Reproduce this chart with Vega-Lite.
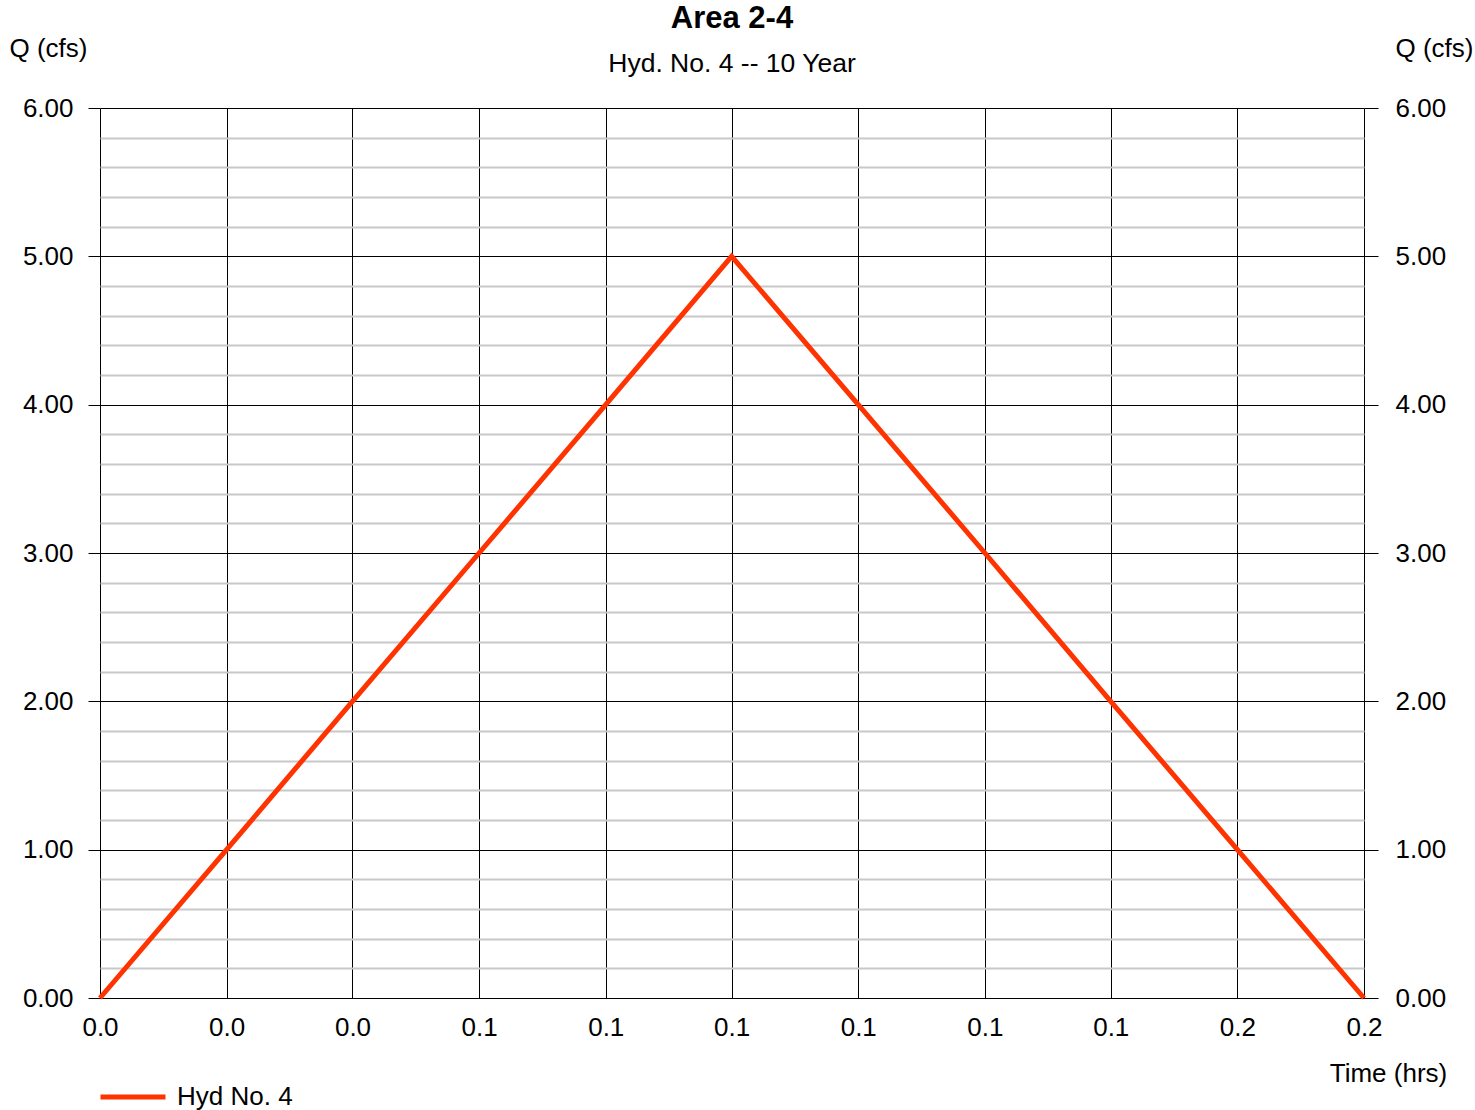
{
  "$schema": "https://vega.github.io/schema/vega-lite/v6.json",
  "width": 1264,
  "height": 890,
  "autosize": {"type": "none"},
  "padding": {"left": 100, "top": 108, "right": 111, "bottom": 112},
  "background": "white",
  "title": {
    "text": "Area 2-4",
    "subtitle": "Hyd. No. 4 -- 10 Year",
    "anchor": "middle",
    "frame": "group",
    "font": "Liberation Sans",
    "fontSize": 31,
    "fontWeight": "bold",
    "color": "black",
    "subtitleFont": "Liberation Sans",
    "subtitleFontSize": 26.5,
    "subtitlePadding": 16,
    "subtitleColor": "black",
    "offset": -43
  },
  "config": {
    "view": {"stroke": null},
    "font": "Liberation Sans",
    "axis": {
      "labelFont": "Liberation Sans",
      "titleFont": "Liberation Sans",
      "labelColor": "black",
      "titleColor": "black",
      "labelFontSize": 26,
      "titleFontSize": 26,
      "titleFontWeight": "normal"
    }
  },
  "data": {
    "values": [
      {"time": 0.0, "q": 0.0, "series": "Hyd No. 4"},
      {"time": 0.0167, "q": 1.0, "series": "Hyd No. 4"},
      {"time": 0.0333, "q": 2.0, "series": "Hyd No. 4"},
      {"time": 0.05, "q": 3.0, "series": "Hyd No. 4"},
      {"time": 0.0667, "q": 4.0, "series": "Hyd No. 4"},
      {"time": 0.0833, "q": 5.0, "series": "Hyd No. 4"},
      {"time": 0.1, "q": 4.0, "series": "Hyd No. 4"},
      {"time": 0.1167, "q": 3.0, "series": "Hyd No. 4"},
      {"time": 0.1333, "q": 2.0, "series": "Hyd No. 4"},
      {"time": 0.15, "q": 1.0, "series": "Hyd No. 4"},
      {"time": 0.1667, "q": 0.0, "series": "Hyd No. 4"}
    ]
  },
  "resolve": {"axis": {"y": "independent"}},
  "layer": [
    {
      "mark": {"type": "line", "strokeOpacity": 0},
      "encoding": {
        "x": {"field": "time", "type": "quantitative", "scale": {"domain": [0, 0.1667], "nice": false, "zero": false}},
        "y": {
          "field": "q", "type": "quantitative",
          "scale": {"domain": [0, 6], "nice": false},
          "axis": {
            "orient": "left",
            "values": [0.2, 0.4, 0.6, 0.8, 1.2, 1.4, 1.6, 1.8, 2.2, 2.4, 2.6, 2.8, 3.2, 3.4, 3.6, 3.8, 4.2, 4.4, 4.6, 4.8, 5.2, 5.4, 5.6, 5.8],
            "grid": true, "gridColor": "#c8c8c8", "gridWidth": 2, "gridOpacity": 1,
            "labels": false, "ticks": false, "domain": false, "title": null, "zindex": 0
          }
        }
      }
    },
    {
      "mark": {"type": "line", "strokeOpacity": 0},
      "encoding": {
        "x": {"field": "time", "type": "quantitative"},
        "y": {
          "field": "q", "type": "quantitative",
          "axis": {
            "orient": "right",
            "values": [0, 1, 2, 3, 4, 5, 6],
            "format": ".2f",
            "grid": false, "domain": false,
            "ticks": true, "tickSize": 14, "tickColor": "black", "tickWidth": 1,
            "labelPadding": 17, "labelAlign": "left",
            "title": "Q (cfs)", "titleAngle": 0, "titleAlign": "center", "titleBaseline": "middle",
            "titleX": 70, "titleY": -60, "zindex": 0
          }
        }
      }
    },
    {
      "mark": {"type": "line", "strokeWidth": 5, "strokeJoin": "miter", "strokeCap": "butt"},
      "encoding": {
        "x": {
          "field": "time", "type": "quantitative",
          "axis": {
            "values": [0, 0.0167, 0.0333, 0.05, 0.0667, 0.0833, 0.1, 0.1167, 0.1333, 0.15, 0.1667],
            "labelExpr": "format(datum.value + 0.0001, '.1f')",
            "grid": true, "gridColor": "black", "gridWidth": 1, "gridOpacity": 1,
            "ticks": false, "domain": true, "domainColor": "black", "domainWidth": 1,
            "labelPadding": 16, "labelFlush": false,
            "title": "Time (hrs)", "titleAnchor": "start", "titleAlign": "center", "titleBaseline": "middle",
            "titleX": 1288, "titleY": 75, "zindex": 0
          }
        },
        "y": {
          "field": "q", "type": "quantitative",
          "axis": {
            "orient": "left",
            "values": [0, 1, 2, 3, 4, 5, 6],
            "format": ".2f",
            "grid": true, "gridColor": "black", "gridWidth": 1, "gridOpacity": 1,
            "domain": false,
            "ticks": true, "tickSize": 12, "tickColor": "black", "tickWidth": 1,
            "labelPadding": 15,
            "title": "Q (cfs)", "titleAngle": 0, "titleAlign": "center", "titleBaseline": "middle",
            "titleX": -52, "titleY": -60, "zindex": 0
          }
        },
        "color": {
          "field": "series", "type": "nominal",
          "scale": {"domain": ["Hyd No. 4"], "range": ["#ff3300"]},
          "legend": {
            "orient": "none", "legendX": -2, "legendY": 954,
            "title": null, "padding": 0,
            "symbolType": "stroke", "symbolSize": 4225, "symbolStrokeWidth": 5,
            "labelFont": "Liberation Sans", "labelFontSize": 26, "labelColor": "black", "labelOffset": 9
          }
        }
      }
    }
  ]
}
